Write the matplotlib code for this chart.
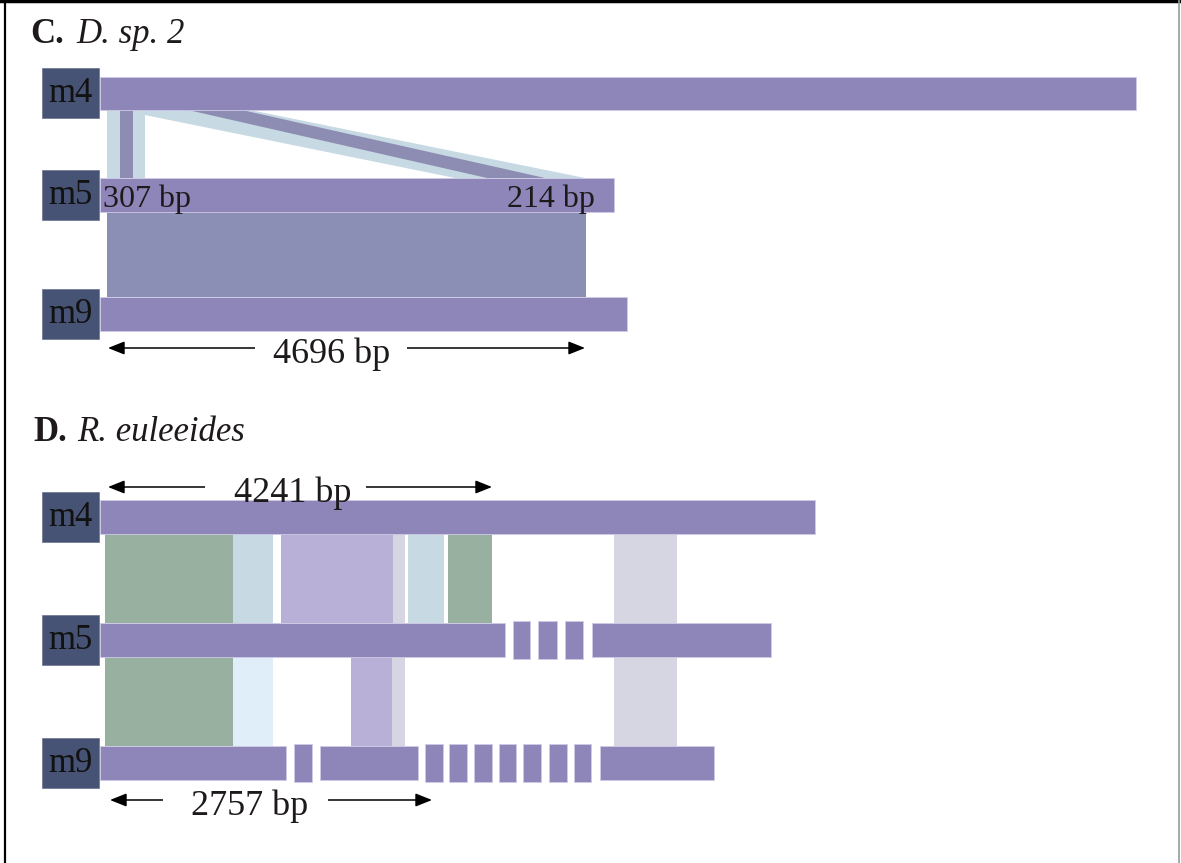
import matplotlib
matplotlib.use("Agg")
import matplotlib.pyplot as plt
from matplotlib.patches import Rectangle, Polygon

plt.rcParams['font.family'] = ['Liberation Serif', 'DejaVu Serif']

# ---- panel C: D. sp. 2 ----
# contig pieces per molecule, bp from the left end
c_m4 = [(0, 10360)]
c_m5 = [(0, 5140)]
c_m9 = [(0, 5270)]

# repeats linking m4 and m5 (top span on m4, bottom span on m5)
c_vert_light = (70, 450)
c_vert_dark = (200, 330)
c_diag_light = ((200, 1500), (3550, 4850))
c_diag_dark = ((880, 1420), (3870, 4450))
# shared block m5 / m9
c_block = (70, 4860)

c_rep_labels = ["307 bp", "214 bp"]
c_span = (80, 4850)
c_span_label = "4696 bp"

# ---- panel D: R. euleeides ----
d_m4 = [(0, 7150)]
d_m5 = [(0, 4050), (4130, 4300), (4380, 4570), (4650, 4830), (4920, 6710)]
d_m9 = [(0, 1860), (1940, 2120), (2200, 3180), (3250, 3430), (3490, 3670),
        (3740, 3920), (3990, 4160), (4230, 4410), (4490, 4670), (4740, 4910),
        (5000, 6140)]

d_links_m4_m5 = [(50, 1330), (1330, 1730), (1810, 2930), (2930, 3050),
                 (3080, 3440), (3480, 3920)]
d_kinds_m4_m5 = ["green", "blue", "lav", "grey", "blue", "green"]
d_links_m5_m9 = [(50, 1330), (1330, 1730), (2510, 2920), (2920, 3050)]
d_kinds_m5_m9 = ["green", "pale", "lav", "grey"]
d_links_m4_m9 = [(5140, 5770)]
d_kinds_m4_m9 = ["grey"]

d_span_top = (80, 3920)
d_span_top_label = "4241 bp"
d_span_bot = (100, 3320)
d_span_bot_label = "2757 bp"

mol_names = ["m4", "m5", "m9"]

# colours
BAR = '#8e85b8'
BAR_EDGE = '#cfcae6'
BOX = '#475375'
TXT = '#1e1a1b'
LINK = {'green': '#97b0a0', 'blue': '#c7d9e3', 'pale': '#dfeef8',
        'lav': '#b8b0d6', 'grey': '#d6d6e3'}
C_LIGHT = '#c7d9e3'
C_DARK = '#8d8db3'
C_BLOCK = '#8c8fb5'

# row layout (y in pixels from top)
rows_c = [(77, 110), (178, 212), (297, 331)]
rows_d = [(500, 534), (623, 657), (746, 780)]

W, H = 1181, 863
fig = plt.figure(figsize=(W / 100, H / 100), dpi=100)
ax = fig.add_axes([0, 0, 1, 1])
ax.set_xlim(-1000, 10810)
ax.set_ylim(H, 0)
ax.axis('off')


def bars(pieces, row, tall=0):
    y0, y1 = row
    for a, b in pieces:
        extra = tall if (b - a) < 300 else 0
        ax.add_patch(Rectangle((a, y0 - extra / 2), b - a, y1 - y0 + extra,
                               facecolor=BAR, edgecolor=BAR_EDGE, lw=0.6, zorder=3))


def label_box(name, row):
    yc = (row[0] + row[1]) / 2
    ax.add_patch(Rectangle((-580, yc - 25), 570, 50, facecolor=BOX,
                           edgecolor='#6a7390', lw=0.5, zorder=4))
    ax.text(-300, yc + 9, name, ha='center', va='baseline', fontsize=25,
            color='#121212', zorder=5)


def band(span, top, bottom, color, z=1):
    a, b = span
    ax.add_patch(Rectangle((a, top), b - a, bottom - top, facecolor=color,
                           edgecolor='none', zorder=z))


def span_arrow(span, y, label, text_x, gap):
    ax.annotate('', xy=(span[0], y), xytext=(span[1], y),
                arrowprops=dict(arrowstyle='<|-|>,head_length=0.5,head_width=0.2',
                                color='black', lw=1.1, mutation_scale=20,
                                shrinkA=0, shrinkB=0), zorder=2)
    # open the line where the label sits
    ax.add_patch(Rectangle((gap[0], y - 4), gap[1] - gap[0], 8, facecolor='white',
                           edgecolor='none', zorder=2.5))
    ax.text(text_x, y + 15, label, ha='center', va='baseline', fontsize=26,
            color=TXT, zorder=6)


# ---------- panel C ----------
ax.text(-700, 43, 'C.', fontsize=25, fontweight='bold', color=TXT, va='baseline')
ax.text(-240, 43, 'D. sp. 2', fontsize=25, fontstyle='italic', color=TXT, va='baseline')

top_y, bot_y = rows_c[0][1], rows_c[1][0]
(lt, lb), (dt, db) = c_diag_light, c_diag_dark
ax.add_patch(Polygon([(lt[0], top_y), (lt[1], top_y), (lb[1], bot_y), (lb[0], bot_y)],
                     closed=True, facecolor=C_LIGHT, edgecolor='none', zorder=1))
ax.add_patch(Polygon([(dt[0], top_y), (dt[1], top_y), (db[1], bot_y), (db[0], bot_y)],
                     closed=True, facecolor=C_DARK, edgecolor='none', zorder=1.2))
band(c_vert_light, top_y, bot_y, C_LIGHT, z=1.4)
band(c_vert_dark, top_y, bot_y, C_DARK, z=1.5)
band(c_block, rows_c[1][1], rows_c[2][0], C_BLOCK)

for pieces, row, name in zip([c_m4, c_m5, c_m9], rows_c, mol_names):
    bars(pieces, row)
    label_box(name, row)

ax.text(30, 207, c_rep_labels[0], fontsize=23, color=TXT, ha='left',
        va='baseline', zorder=6)
ax.text(4950, 207, c_rep_labels[1], fontsize=23, color=TXT, ha='right',
        va='baseline', zorder=6)

span_arrow(c_span, 348, c_span_label, 2320, (1550, 3070))

# ---------- panel D ----------
ax.text(-670, 441, 'D.', fontsize=25, fontweight='bold', color=TXT, va='baseline')
ax.text(-230, 441, 'R. euleeides', fontsize=25, fontstyle='italic', color=TXT,
        va='baseline')

for (a, b), k in zip(d_links_m4_m5, d_kinds_m4_m5):
    band((a, b), rows_d[0][1], rows_d[1][0], LINK[k])
for (a, b), k in zip(d_links_m5_m9, d_kinds_m5_m9):
    band((a, b), rows_d[1][1], rows_d[2][0], LINK[k])
for (a, b), k in zip(d_links_m4_m9, d_kinds_m4_m9):
    band((a, b), rows_d[0][1], rows_d[2][0], LINK[k], z=0.5)

for pieces, row, name in zip([d_m4, d_m5, d_m9], rows_d, mol_names):
    bars(pieces, row, tall=4)
    label_box(name, row)

span_arrow(d_span_top, 487, d_span_top_label, 1930, (1050, 2660))
span_arrow(d_span_bot, 800, d_span_bot_label, 1500, (630, 2280))

# frame
fig.add_artist(plt.Line2D([0, 1], [1 - 1.5 / H, 1 - 1.5 / H], color='black', lw=2.5))
fig.add_artist(plt.Line2D([4.5 / W, 4.5 / W], [0, 1], color='black', lw=1.6))
fig.add_artist(plt.Line2D([1178.5 / W, 1178.5 / W], [0, 1], color='#9a9a9a', lw=1.2))

fig.savefig('out.png', dpi=100)
